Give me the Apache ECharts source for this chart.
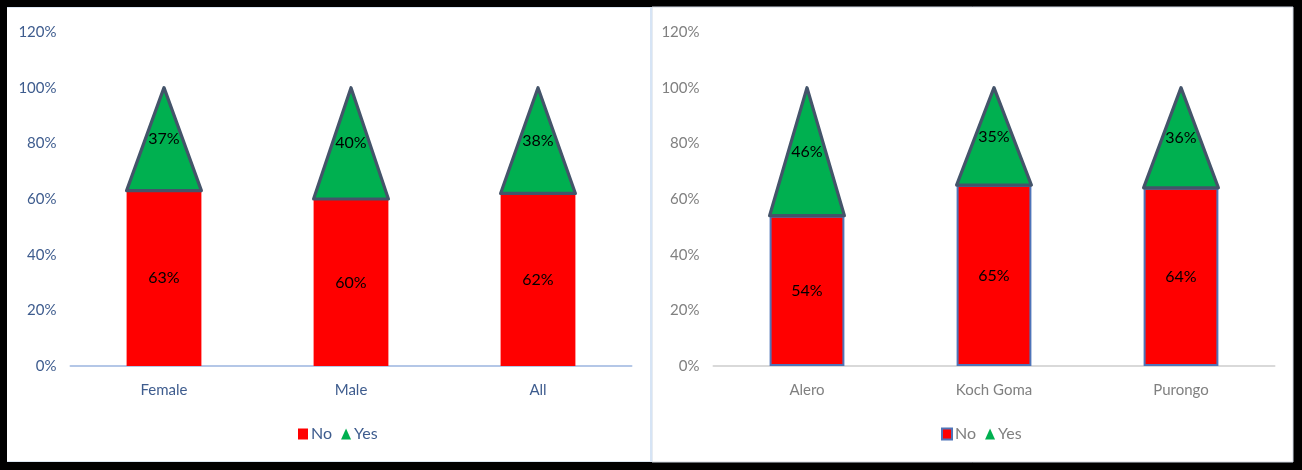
<!DOCTYPE html>
<html>
<head>
<meta charset="utf-8">
<script src="https://cdn.jsdelivr.net/npm/echarts@6/dist/echarts.min.js"></script>
<style>
  html, body { margin: 0; padding: 0; background: #000; }
  #chart { width: 1302px; height: 470px; }
</style>
</head>
<body>
<div id="chart"></div>
<script>
// Share of respondents answering No / Yes, by sex and by sub-county
const sexCategories = ['Female', 'Male', 'All'];
const sexNo = [0.63, 0.60, 0.62];
const sexYes = [0.37, 0.40, 0.38];

const areaCategories = ['Alero', 'Koch Goma', 'Purongo'];
const areaNo = [0.54, 0.65, 0.64];
const areaYes = [0.46, 0.35, 0.36];

const yTicks = { min: 0, max: 1.2, interval: 0.2 };

const FONT = "Lato, 'Open Sans', sans-serif";
const RED = '#FF0000';
const GREEN = '#00B050';
const OUTLINE = '#44546A';

const pct = v => Math.round(v * 100) + '%';

// Triangle sitting on top of the No bar, apex at No + Yes
function triangleRenderer(noVals) {
  return function (params, api) {
    const i = api.value(0);
    const yes = api.value(1);
    const base = noVals[i];
    const pBase = api.coord([i, base]);
    const pTip = api.coord([i, base + yes]);
    const w = api.size([1, 0])[0] * 0.4;
    const midY = (pBase[1] + pTip[1]) / 2;
    return {
      type: 'group',
      children: [
        {
          type: 'polygon',
          shape: { points: [[pBase[0] - w / 2, pBase[1]], [pTip[0], pTip[1]], [pBase[0] + w / 2, pBase[1]]] },
          style: { fill: GREEN, stroke: OUTLINE, lineWidth: 3.2, lineJoin: 'round' }
        },
        {
          type: 'text',
          x: pTip[0], y: midY,
          style: { text: pct(yes), fill: '#000', font: '16px ' + FONT, align: 'center', verticalAlign: 'middle' }
        }
      ]
    };
  };
}

function panel(idx, cats, noVals, yesVals, textColor, axisLineColor, barBorder) {
  return {
    xAxis: {
      type: 'category', gridIndex: idx, data: cats,
      axisLine: { lineStyle: { color: axisLineColor, width: 2 } },
      axisTick: { show: false },
      axisLabel: { color: textColor, fontSize: 15, fontFamily: FONT, margin: 17 }
    },
    yAxis: {
      type: 'value', gridIndex: idx, min: yTicks.min, max: yTicks.max, interval: yTicks.interval,
      splitLine: { show: false }, axisLine: { show: false }, axisTick: { show: false },
      axisLabel: { color: textColor, fontSize: 15, fontFamily: FONT, margin: 14, formatter: v => pct(v) }
    },
    series: [
      {
        name: 'No', type: 'bar', xAxisIndex: idx, yAxisIndex: idx, barWidth: '40%',
        data: noVals,
        itemStyle: barBorder ? { color: RED, borderColor: barBorder, borderWidth: 2 } : { color: RED },
        label: { show: true, position: 'inside', color: '#000', fontSize: 16, fontFamily: FONT, formatter: p => pct(p.value) }
      },
      {
        name: 'Yes', type: 'custom', xAxisIndex: idx, yAxisIndex: idx,
        data: yesVals.map((v, i) => [i, v]),
        itemStyle: { color: GREEN },
        renderItem: triangleRenderer(noVals),
        z: 3
      }
    ]
  };
}

const left = panel(0, sexCategories, sexNo, sexYes, '#3E5C8E', '#B4C7E7', null);
const right = panel(1, areaCategories, areaNo, areaYes, '#808080', '#D9D9D9', '#4F74B8');

const legendBase = {
  top: 421, itemWidth: 10, itemHeight: 11, itemGap: 9,
  textStyle: { fontSize: 16, fontFamily: FONT, padding: [0, 0, 0, -2] }
};

const chart = echarts.init(document.getElementById('chart'), null, { renderer: 'canvas' });
chart.setOption({
  backgroundColor: '#000',
  animation: false,
  graphic: [
    { type: 'rect', shape: { x: 7, y: 7, width: 646, height: 455 }, style: { fill: '#fff' }, z: -10 },
    { type: 'rect', shape: { x: 652, y: 7, width: 641, height: 455 }, style: { fill: '#fff', stroke: '#D0D7E2', lineWidth: 1 }, z: -10 },
    { type: 'line', shape: { x1: 651, y1: 7, x2: 651, y2: 462 }, style: { stroke: '#D6E4F5', lineWidth: 2 }, z: -9 },
    { type: 'line', shape: { x1: 7, y1: 7.5, x2: 651, y2: 7.5 }, style: { stroke: '#DCE6F2', lineWidth: 1 }, z: -9 },
    { type: 'line', shape: { x1: 7, y1: 461.5, x2: 651, y2: 461.5 }, style: { stroke: '#DCE6F2', lineWidth: 1 }, z: -9 }
  ],
  grid: [
    { left: 70.5, top: 32, width: 561, height: 334 },
    { left: 713.5, top: 32, width: 561, height: 334 }
  ],
  legend: [
    Object.assign({}, legendBase, {
      left: 293,
      textStyle: Object.assign({}, legendBase.textStyle, { color: '#3E5C8E' }),
      data: [
        { name: 'No', icon: 'rect', itemStyle: { color: RED } },
        { name: 'Yes', icon: 'triangle', itemStyle: { color: GREEN, borderWidth: 0 } }
      ]
    }),
    Object.assign({}, legendBase, {
      left: 936,
      textStyle: Object.assign({}, legendBase.textStyle, { color: '#808080' }),
      data: [
        { name: 'No', icon: 'rect', itemStyle: { color: RED, borderColor: '#4F74B8', borderWidth: 2 } },
        { name: 'Yes', icon: 'triangle', itemStyle: { color: GREEN, borderWidth: 0 } }
      ]
    })
  ],
  xAxis: [left.xAxis, right.xAxis],
  yAxis: [left.yAxis, right.yAxis],
  series: [...left.series, ...right.series]
});
</script>
</body>
</html>
